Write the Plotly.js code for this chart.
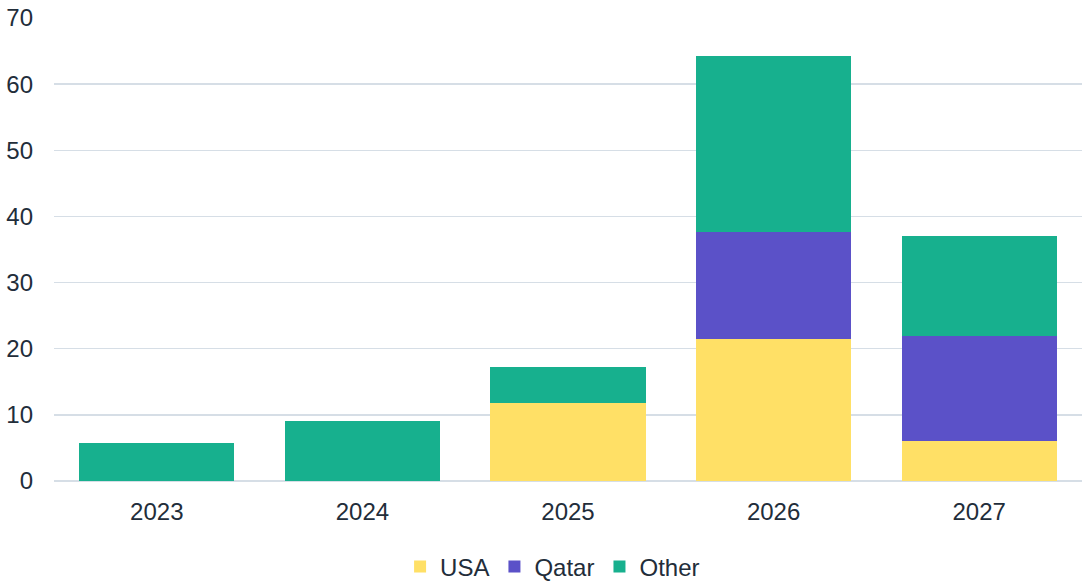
<!DOCTYPE html>
<html>
<head>
<meta charset="utf-8">
<script src="https://cdn.plot.ly/plotly-3.0.1.min.js"></script>
<style>html,body{margin:0;padding:0;background:#fff;}#chart{width:1085px;height:582px;}</style>
</head>
<body>
<div id="chart"></div>
<script>
const years = ['2023', '2024', '2025', '2026', '2027'];
const usa = [0, 0, 11.8, 21.5, 6.0];
const qatar = [0, 0, 0, 16.1, 15.9];
const other = [5.8, 9.1, 5.45, 26.6, 15.1];
const yTicks = [0, 10, 20, 30, 40, 50, 60, 70];

const font = {family: 'Liberation Sans, Arial, sans-serif', size: 24, color: '#222d3a'};
const traces = [
  {name: 'USA', x: years, y: usa, type: 'bar', marker: {color: '#ffe066'}},
  {name: 'Qatar', x: years, y: qatar, type: 'bar', marker: {color: '#5b51c8'}},
  {name: 'Other', x: years, y: other, type: 'bar', marker: {color: '#17b08e'}}
];
const layout = {
  width: 1085, height: 582,
  margin: {l: 54, r: 3, t: 18, b: 101, autoexpand: false},
  barmode: 'stack',
  bargap: 0.245,
  font: font,
  paper_bgcolor: '#fff', plot_bgcolor: '#fff',
  showlegend: true,
  legend: {orientation: 'h', x: 0.485, xanchor: 'center', yref: 'container', y: 0.026, yanchor: 'middle', font: font, traceorder: 'normal', itemwidth: 30},
  xaxis: {type: 'category', automargin: false, showgrid: false, showline: false, ticks: '', ticklabelstandoff: 14, tickfont: font},
  yaxis: {range: [0, 70], automargin: false, tickvals: yTicks, showgrid: true, gridcolor: '#d6dee6', gridwidth: 1.5,
          zeroline: true, zerolinecolor: '#d6dee6', zerolinewidth: 1.5, ticks: '', ticklabelstandoff: 20, tickfont: font}
};
Plotly.newPlot('chart', traces, layout, {displayModeBar: false, staticPlot: true});
</script>
</body>
</html>
